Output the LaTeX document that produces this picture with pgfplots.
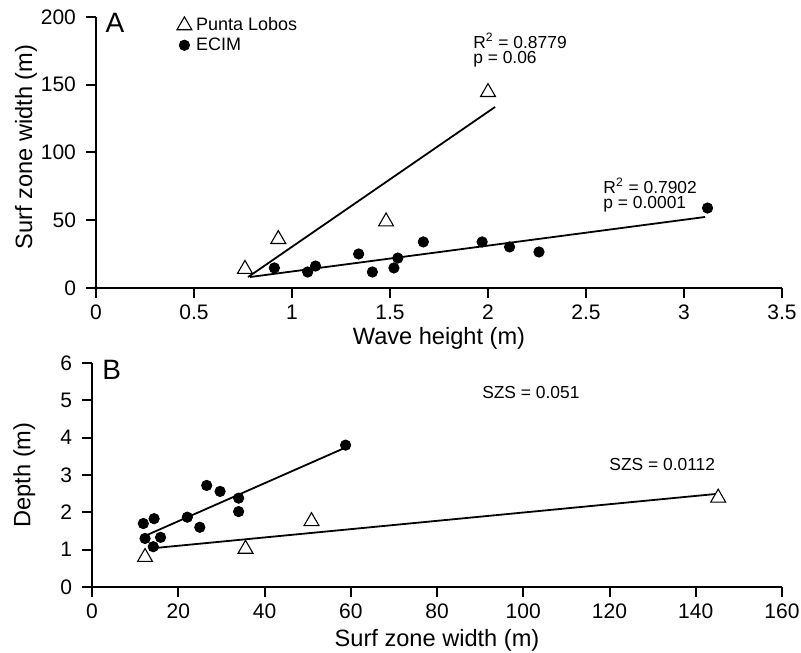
\documentclass[border=0pt]{standalone}
\usepackage{fontspec}
\setmainfont{Liberation Sans}
\usepackage{pgfplots}
\pgfplotsset{compat=1.18}
\newcommand{\fs}[1]{\fontsize{#1}{#1}\selectfont}
\pgfplotsset{
  myaxis/.style={
    scale only axis,
    axis lines=left,
    axis line style={-, line width=1pt},
    tick align=outside,
    major tick length=5pt,
    tick style={line width=1pt, black},
    clip=false,
    /pgf/number format/assume math mode=true,
    ticklabel style={font=\fs{10.5}},
    yticklabel style={xshift=-1.5pt},
    label style={font=\fs{11.8}},
  },
  ptri/.style={only marks, mark=triangle*, mark size=4.3pt, mark options={fill=white, draw=black, line width=0.55pt}},
  pcirc/.style={only marks, mark=*, mark size=2.6pt, mark options={fill=black, draw=black}},
  fitline/.style={no marks, black, line width=0.9pt, forget plot},
}
\begin{document}
\begin{tikzpicture}
\path[use as bounding box] (0,0) rectangle (400.5pt,326pt);
% Panel A
\begin{axis}[myaxis,
  at={(48pt,182pt)}, anchor=south west,
  width=343pt, height=135.5pt,
  xmin=0, xmax=3.5, ymin=0, ymax=200,
  xtick={0,0.5,1,1.5,2,2.5,3,3.5},
  ytick={0,50,100,150,200},
  xlabel={Wave height (m)},
  ylabel={Surf zone width (m)},
  xlabel style={at={(axis description cs:0.5,-0.1845)}, anchor=center},
  ylabel style={at={(axis description cs:-0.102,0.52)}, anchor=center},
  legend style={draw=none, fill=none, at={(axis description cs:0.1079,1.022)}, anchor=north west,
    font=\fs{9}, nodes={inner sep=1pt}, row sep=0pt},
  legend cell align=left,
  legend image code/.code={\path[draw=none, fill=none] (-2pt,-1pt) rectangle (6.8pt,1pt);
    \draw[mark repeat=2,mark phase=2,#1] plot coordinates {(0pt,0pt) (2pt,0pt) (4pt,0pt)};},
]
\addplot[fitline] coordinates {(0.776,8.1) (2.036,133.6)};
\addplot[fitline] coordinates {(0.786,8.1) (3.107,52.4)};
\addplot[ptri] coordinates {(0.76,14) (0.93,36) (1.48,49) (2.00,144.5)};
\addlegendentry{Punta Lobos}
\addplot[pcirc] coordinates {(0.91,14.8) (1.08,11.8) (1.12,16.2) (1.34,25.1) (1.41,11.8) (1.52,14.8) (1.54,22.1) (1.67,34.0) (1.97,34.0) (2.11,30.3) (2.26,26.6) (3.12,59.0)};
\addlegendentry{ECIM}
\node[font=\fs{14}] at (axis cs:0.097,196) {A};
\node[anchor=west, font=\fs{8.7}, inner sep=0pt] at (axis cs:1.923,182.3) {R\textsuperscript{2} = 0.8779};
\node[anchor=west, font=\fs{8.7}, inner sep=0pt] at (axis cs:1.923,168.5) {p = 0.06};
\node[anchor=west, font=\fs{8.7}, inner sep=0pt] at (axis cs:2.587,75.3) {R\textsuperscript{2} = 0.7902};
\node[anchor=west, font=\fs{8.7}, inner sep=0pt] at (axis cs:2.587,61.5) {p = 0.0001};
\end{axis}
% Panel B
\begin{axis}[myaxis,
  at={(46pt,32.5pt)}, anchor=south west,
  width=345pt, height=112pt,
  xmin=0, xmax=160, ymin=0, ymax=6,
  xtick={0,20,...,160},
  ytick={0,1,...,6},
  xlabel={Surf zone width (m)},
  ylabel={Depth (m)},
  xlabel style={at={(axis description cs:0.5,-0.2366)}, anchor=center},
  ylabel style={at={(axis description cs:-0.098,0.5)}, anchor=center},
]
\addplot[fitline] coordinates {(12.7,1.39) (58.3,3.71)};
\addplot[fitline] coordinates {(14.2,1.04) (144.5,2.49)};
\addplot[ptri] coordinates {(12.3,0.80) (35.6,1.02) (50.9,1.76) (145.2,2.39)};
\addplot[pcirc] coordinates {(11.9,1.70) (14.4,1.83) (12.3,1.30) (15.9,1.33) (14.2,1.08) (22.1,1.87) (25.0,1.60) (26.6,2.72) (29.7,2.56) (34.0,2.38) (34.0,2.02) (58.8,3.80)};
\node[font=\fs{14}] at (axis cs:4.6,5.81) {B};
\node[anchor=west, font=\fs{8.7}, inner sep=0pt] at (axis cs:90.4,5.20) {SZS = 0.051};
\node[anchor=west, font=\fs{8.7}, inner sep=0pt] at (axis cs:119.9,3.29) {SZS = 0.0112};
\end{axis}
\end{tikzpicture}
\end{document}
